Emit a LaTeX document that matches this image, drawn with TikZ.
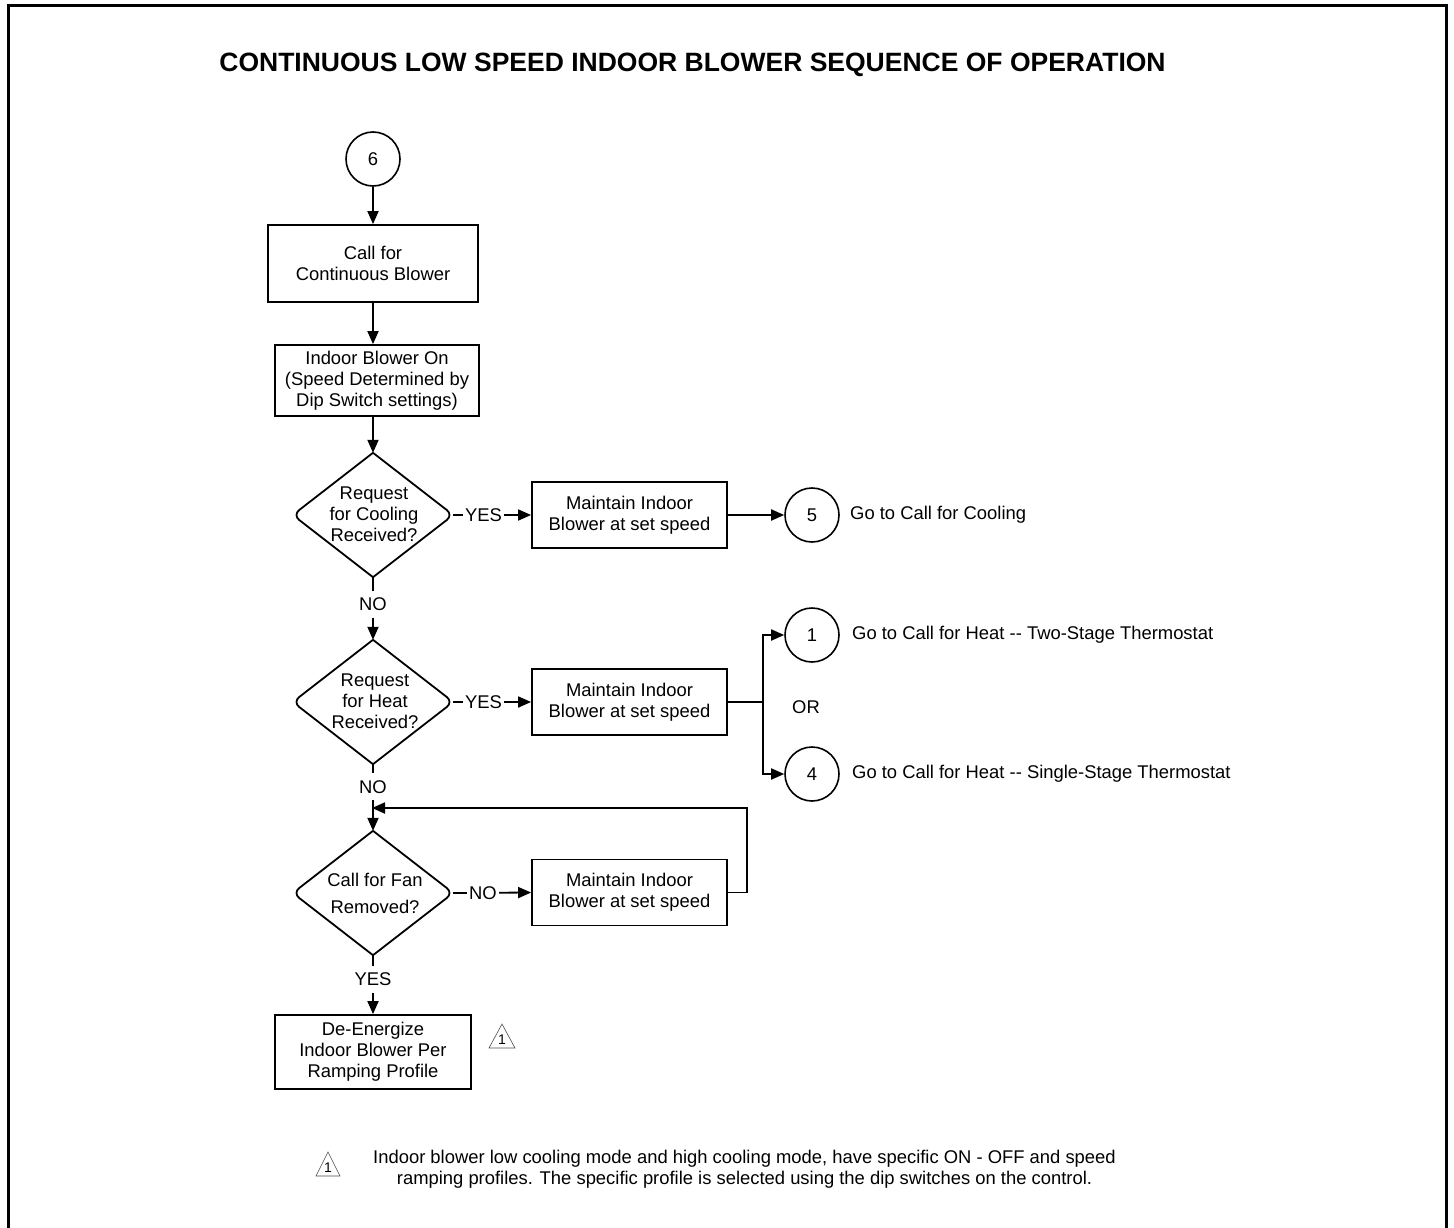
\documentclass[tikz,border=0pt]{standalone}
\usepackage{fontspec}
\setmainfont{Liberation Sans}
\usetikzlibrary{arrows.meta,shapes.geometric,calc}
\begin{document}
\begin{tikzpicture}[x=1pt,y=-1pt,
  every node/.style={font=\fontsize{18.4}{21}\selectfont, inner sep=0pt},
  proc/.style={draw, line width=1.8pt, align=center},
  conn/.style={draw, circle, line width=1.6pt, minimum size=54pt},
  dec/.style={diamond, minimum width=160pt, minimum height=124pt},
  decline/.style={line width=1.8pt, rounded corners=8pt},
  arr/.style={line width=1.8pt, -{Triangle[length=13pt,width=11pt]}},
  ln/.style={line width=1.8pt},
  hlbl/.style={fill=white, inner xsep=2pt, inner ysep=2pt},
  vlbl/.style={fill=white, inner xsep=2pt, inner ysep=7pt},
  markline/.style={line width=0.6pt, draw=black!70},
  marktxt/.style={font=\fontsize{14}{14}\selectfont}
]
\useasboundingbox (0,0) rectangle (1454,1228);
% frame
\draw[line width=3pt] (8,1240) -- (8,6) -- (1446,6) -- (1446,1240);

% title
\node[font=\bfseries\fontsize{26.5}{30}\selectfont, anchor=base] (title) at (692.5,72)
  {CONTINUOUS LOW SPEED INDOOR BLOWER SEQUENCE OF OPERATION};

% main column
\node[conn] (c6) at (373,159) {6};
\node[proc, minimum width=210pt, minimum height=77pt] (b1) at (373,263.5) {Call for\\Continuous Blower};
\node[proc, minimum width=204pt, minimum height=71pt] (b2) at (377,380.5) {Indoor Blower On\\(Speed Determined by\\Dip Switch settings)};

\node[dec] (d1) at (373,515) {};
\node[align=center] (d1t) at (374,514) {Request\\for Cooling\\Received?};
\draw[decline] (d1.north) -- (d1.west) -- (d1.south);
\draw[decline] (d1.north) -- (d1.east) -- (d1.south);

\node[proc, minimum width=195pt, minimum height=66pt] (b3) at (629.5,515) {Maintain Indoor\\Blower at set speed};
\node[conn] (c5) at (812,515) {5};
\node[anchor=west] (t5) at (850,515) {Go to Call for Cooling};

\node[dec] (d2) at (373,702) {};
\node[align=center] (d2t) at (375,701.5) {Request\\for Heat\\Received?};
\draw[decline] (d2.north) -- (d2.west) -- (d2.south);
\draw[decline] (d2.north) -- (d2.east) -- (d2.south);

\node[proc, minimum width=195pt, minimum height=66pt] (b4) at (629.5,702) {Maintain Indoor\\Blower at set speed};
\coordinate (split) at (763,702);
\node[conn] (c1) at (812,635) {1};
\node[conn] (c4) at (812,774) {4};
\node (or) at (806,707) {OR};
\node[anchor=west] (t1) at (852,635) {Go to Call for Heat -{}- Two-Stage Thermostat};
\node[anchor=west] (t4) at (852,774) {Go to Call for Heat -{}- Single-Stage Thermostat};

\node[dec] (d3) at (373,893) {};
\node[align=center, font=\fontsize{18.4}{27}\selectfont] (d3t) at (375,893.5) {Call for Fan\\Removed?};
\draw[decline] (d3.north) -- (d3.west) -- (d3.south);
\draw[decline] (d3.north) -- (d3.east) -- (d3.south);

\node[proc, minimum width=195pt, minimum height=66pt] (b5) at (629.5,892.5) {Maintain Indoor\\Blower at set speed};
\coordinate (jn) at (373,808);

\node[proc, minimum width=196pt, minimum height=74pt] (b6) at (373,1052) {De-Energize\\Indoor Blower Per\\Ramping Profile};

% marker next to b6
\node[marktxt] (m1) at (502,1040) {1};
\draw[markline] (m1.center) ++(0,-16) -- ++(-13,24) -- ++(26,0) -- cycle;

% footnote
\node[marktxt] (m2) at (328,1168) {1};
\draw[markline] (m2.center) ++(0,-16) -- ++(-12,24) -- ++(24,0) -- cycle;
\node[align=center] (fn) at (744.5,1169) {Indoor blower low cooling mode and high cooling mode, have specific ON - OFF and speed\\ramping profiles. The specific profile is selected using the dip switches on the control.};

% connectors
\draw[arr] (c6) -- (b1);
\draw[arr] (b1) -- (b1 |- b2.north);
\draw[arr] (b2.south -| d1.north) -- (d1.north);
\draw[arr] (d1.east) -- node[hlbl, pos=0.39] {YES} (b3.west);
\draw[arr] (b3.east) -- (c5.west);
\draw[arr] (d1.south) -- node[vlbl, pos=0.43] {NO} (d2.north);
\draw[arr] (d2.east) -- node[hlbl, pos=0.39] {YES} (b4.west);
\draw[ln] (b4.east) -- (split);
\draw[arr] (split) |- (c1.west);
\draw[arr] (split) |- (c4.west);
\draw[arr] (d2.south) -- node[vlbl, pos=0.34] {NO} (d3.north);
\draw[arr] (d3.east) -- node[hlbl, pos=0.38] {NO} (b5.west);
\draw[arr, shorten >=-1pt] (b5.east) -- ++(19,0) |- (jn);
\draw[arr] (d3.south) -- node[vlbl, pos=0.41] {YES} (b6.north);
\end{tikzpicture}
\end{document}
